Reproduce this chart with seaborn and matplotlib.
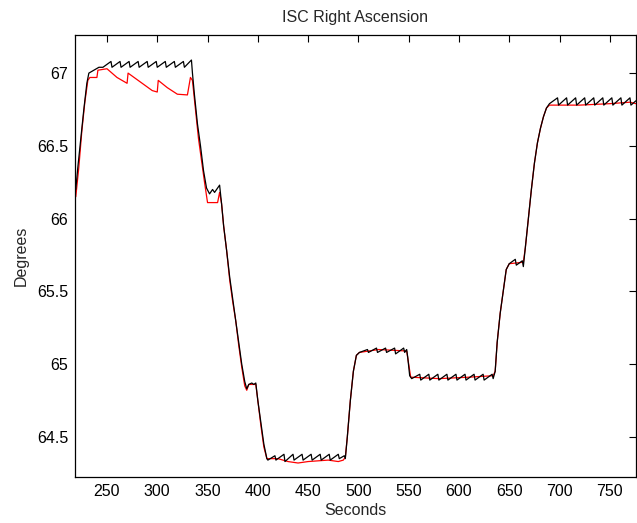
import numpy as np
import pandas as pd
import seaborn as sns
from matplotlib import pyplot as plt
from matplotlib.ticker import FormatStrFormatter

# black trace (with the small sawtooth)
black_t = [219, 221, 224, 227, 230, 232, 237, 242, 246,
           254, 255, 263, 264, 272, 273, 281, 282, 290, 291, 299, 300,
           308, 309, 317, 318, 326, 327, 334, 335, 337, 340, 343, 346, 349,
           352, 355, 357, 360, 362, 364, 366, 369, 372, 375, 378, 381, 384,
           387, 389, 391, 394, 396, 398, 400, 403, 406, 409,
           410, 417, 418, 426, 427, 435, 436, 444, 445, 453, 454, 462, 463,
           471, 472, 480, 481, 486, 487, 489, 492, 495, 498, 501,
           509, 510, 518, 519, 527, 528, 536, 537, 545, 546, 548, 549, 551, 553,
           561, 562, 570, 571, 579, 580, 588, 589, 597, 598, 606, 607, 615, 616,
           624, 625, 633, 634, 636, 638, 641, 644, 647, 650,
           656, 657, 663, 664, 666, 669, 672, 675, 678, 681, 684, 687, 690,
           698, 699, 707, 708, 716, 717, 725, 726, 734, 735, 743, 744,
           752, 753, 761, 762, 770, 771, 776]
black_y = [66.20, 66.35, 66.55, 66.75, 66.93, 67.00, 67.02, 67.04, 67.04,
           67.08, 67.04, 67.08, 67.04, 67.08, 67.04, 67.08, 67.04, 67.08, 67.04, 67.08, 67.04,
           67.08, 67.04, 67.08, 67.04, 67.08, 67.04, 67.09, 67.00, 66.85, 66.65, 66.50, 66.33, 66.21,
           66.17, 66.20, 66.18, 66.21, 66.23, 66.10, 65.95, 65.78, 65.60, 65.45, 65.30, 65.15, 65.00,
           64.88, 64.83, 64.86, 64.87, 64.86, 64.87, 64.75, 64.60, 64.45, 64.35,
           64.34, 64.37, 64.34, 64.38, 64.33, 64.38, 64.34, 64.38, 64.34, 64.38, 64.34, 64.38, 64.34,
           64.38, 64.34, 64.38, 64.35, 64.37, 64.35, 64.50, 64.75, 64.95, 65.06, 65.08,
           65.10, 65.08, 65.11, 65.08, 65.11, 65.08, 65.11, 65.07, 65.11, 65.08, 65.10, 65.05, 64.92, 64.90,
           64.93, 64.89, 64.93, 64.89, 64.93, 64.89, 64.93, 64.89, 64.93, 64.89, 64.93, 64.89, 64.93, 64.89,
           64.93, 64.89, 64.93, 64.90, 64.95, 65.15, 65.35, 65.50, 65.65, 65.69,
           65.72, 65.68, 65.71, 65.67, 65.80, 66.00, 66.20, 66.38, 66.52, 66.62, 66.70, 66.76, 66.79,
           66.83, 66.78, 66.83, 66.78, 66.83, 66.78, 66.83, 66.78, 66.83, 66.78, 66.83, 66.78,
           66.83, 66.78, 66.83, 66.78, 66.83, 66.78, 66.81]

# red trace
red_t = [219, 222, 225, 228, 231, 233, 240, 241, 250, 260, 270, 271, 285, 295, 300, 301,
         310, 320, 330, 333, 335, 338, 341, 344, 347, 350, 360, 362, 364, 366, 369, 372,
         375, 378, 381, 384, 387, 389, 391, 398, 400, 403, 406, 409, 420, 430, 440, 450,
         470, 480, 485, 487, 489, 492, 495, 498, 501, 520, 548, 550, 552, 580, 610, 634,
         636, 638, 641, 644, 647, 650, 664, 666, 669, 672, 675, 678, 681, 684, 687, 690,
         720, 750, 770, 776]
red_y = [66.15, 66.35, 66.60, 66.80, 66.95, 66.97, 66.97, 67.02, 67.03, 66.97, 66.93, 67.00,
         66.93, 66.88, 66.87, 66.95, 66.90, 66.855, 66.85, 66.97, 66.95, 66.75, 66.55, 66.40,
         66.25, 66.11, 66.11, 66.18, 66.10, 65.95, 65.78, 65.58, 65.43, 65.30, 65.13, 64.98,
         64.85, 64.82, 64.86, 64.86, 64.75, 64.58, 64.43, 64.35, 64.35, 64.33, 64.32, 64.33,
         64.34, 64.33, 64.34, 64.36, 64.50, 64.75, 64.95, 65.06, 65.08, 65.10, 65.09, 65.00,
         64.91, 64.90, 64.91, 64.92, 64.95, 65.15, 65.35, 65.50, 65.65, 65.69, 65.70, 65.80,
         66.00, 66.20, 66.38, 66.52, 66.62, 66.70, 66.76, 66.78, 66.78, 66.79, 66.80, 66.79]

sns.set_style("white")
plt.rcParams['font.family'] = ['Liberation Sans', 'DejaVu Sans']

fig = plt.figure(figsize=(6.37, 5.23), dpi=100)
ax = fig.add_axes([0.1177, 0.0880, 0.8807, 0.8451])

sns.lineplot(x=red_t, y=red_y, color='#ff0000', linewidth=0.9, ax=ax, sort=False)
sns.lineplot(x=black_t, y=black_y, color='black', linewidth=0.9, ax=ax, sort=False)

ax.set_xlim(218.2, 776)
ax.set_ylim(64.224, 67.262)
ax.set_xticks(np.arange(250, 751, 50))
ax.set_yticks([64.5, 65, 65.5, 66, 66.5, 67])
ax.yaxis.set_major_formatter(FormatStrFormatter('%g'))
ax.tick_params(direction='in', length=5, width=0.8, top=True, right=True,
               labelsize=11.5, colors='black', pad=5)
for s in ax.spines.values():
    s.set_color('black')
    s.set_linewidth(0.9)

ax.set_title('ISC Right Ascension', fontsize=11.5, pad=9)
ax.set_xlabel('Seconds', fontsize=11.5, labelpad=3)
ax.set_ylabel('Degrees', fontsize=11.5, labelpad=6)

fig.savefig('out.png', dpi=100)
